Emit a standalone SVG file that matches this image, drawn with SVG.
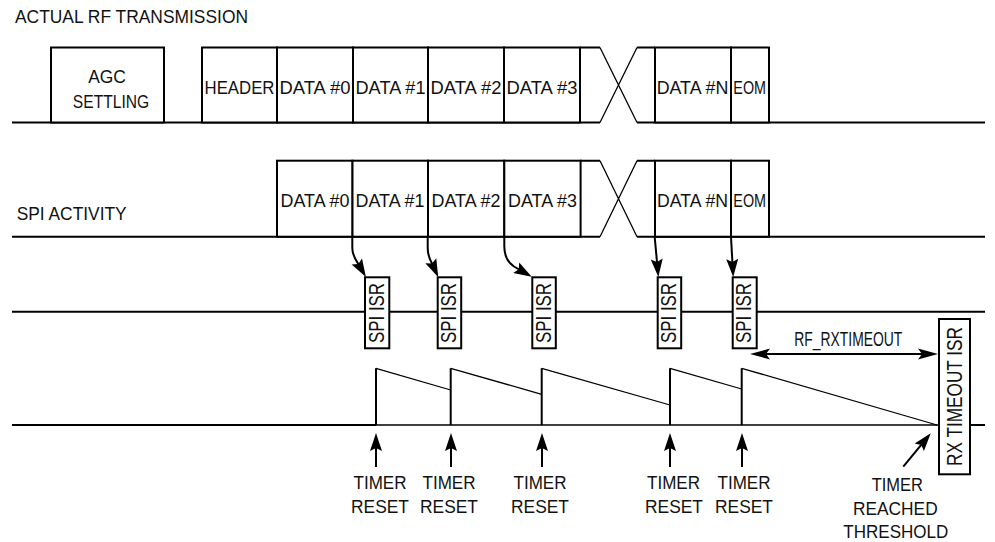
<svg xmlns="http://www.w3.org/2000/svg" width="995" height="542" viewBox="0 0 995 542">
<style>
  text { font-family: "Liberation Sans", Arial, sans-serif; font-size: 19px; fill: #111; }
  .c { text-anchor: middle; }
  .rot { font-size: 22px; text-anchor: middle; }
  .box { fill: #fff; stroke: #000; stroke-width: 2; }
  .ln { fill: none; stroke: #000; stroke-width: 2; }
  .thin { fill: none; stroke: #000; stroke-width: 1.3; }
  .arr { fill: none; stroke: #000; stroke-width: 2; marker-end: url(#ah); }
</style>
<defs>
  <marker id="ah" markerUnits="userSpaceOnUse" markerWidth="20" markerHeight="14" refX="14" refY="6" orient="auto" overflow="visible">
    <path d="M0,0 L18,6 L0,12 L3,6 Z" fill="#000"/>
  </marker>
  <marker id="ah2" markerUnits="userSpaceOnUse" markerWidth="22" markerHeight="14" refX="16" refY="5.5" orient="auto-start-reverse" overflow="visible">
    <path d="M0,0 L20,5.5 L0,11 L4,5.5 Z" fill="#000"/>
  </marker>
</defs>

<text x="15" y="23" textLength="233" lengthAdjust="spacingAndGlyphs">ACTUAL RF TRANSMISSION</text>
<text x="16.7" y="220" textLength="110" lengthAdjust="spacingAndGlyphs">SPI ACTIVITY</text>

<g id="baselines">
  <path class="ln" d="M12,122.5 H600 M637,122.5 H985"/>
  <path class="ln" d="M580,47.5 H600 M637,47.5 H655"/>
  <path class="thin" d="M600,47.5 L637,122.5 M600,122.5 L637,47.5"/>
  <path class="ln" d="M12,236.7 H600 M637,236.7 H985"/>
  <path class="ln" d="M580,160.7 H600 M637,160.7 H655"/>
  <path class="thin" d="M600,160.7 L637,236.7 M600,236.7 L637,160.7"/>
  <path class="ln" d="M12,311.7 H985"/>
  <path class="ln" d="M12,425 H376 M970,425 H985"/>
  <path class="thin" d="M376,425 H939"/>
</g>

<g id="rf-row">
  <g id="agc"><rect class="box" x="51" y="47.5" width="113" height="75"/>
    <text class="c" x="107" y="83" textLength="37.7" lengthAdjust="spacingAndGlyphs">AGC</text>
    <text class="c" x="111" y="108" textLength="76.3" lengthAdjust="spacingAndGlyphs">SETTLING</text></g>
  <g id="rf-header"><rect class="box" x="202" y="47.5" width="75" height="75"/>
    <text class="c" x="239.5" y="94" textLength="70" lengthAdjust="spacingAndGlyphs">HEADER</text></g>
  <g id="rf-d0"><rect class="box" x="277" y="47.5" width="76" height="75"/>
    <text class="c" x="315" y="94" textLength="71" lengthAdjust="spacingAndGlyphs">DATA #0</text></g>
  <g id="rf-d1"><rect class="box" x="353" y="47.5" width="75" height="75"/>
    <text class="c" x="390.5" y="94" textLength="70" lengthAdjust="spacingAndGlyphs">DATA #1</text></g>
  <g id="rf-d2"><rect class="box" x="428" y="47.5" width="76" height="75"/>
    <text class="c" x="466" y="94" textLength="71" lengthAdjust="spacingAndGlyphs">DATA #2</text></g>
  <g id="rf-d3"><rect class="box" x="504" y="47.5" width="76" height="75"/>
    <text class="c" x="542" y="94" textLength="71" lengthAdjust="spacingAndGlyphs">DATA #3</text></g>
  <g id="rf-dn"><rect class="box" x="655" y="47.5" width="76" height="75"/>
    <text class="c" x="692.5" y="94" textLength="71.6" lengthAdjust="spacingAndGlyphs">DATA #N</text></g>
  <g id="rf-eom"><rect class="box" x="731" y="47.5" width="38" height="75"/>
    <text class="c" x="749.7" y="94" textLength="32.7" lengthAdjust="spacingAndGlyphs">EOM</text></g>
</g>

<g id="spi-row">
  <g id="spi-d0"><rect class="box" x="277" y="160.7" width="75.5" height="76"/>
    <text class="c" x="315" y="206.5" textLength="69" lengthAdjust="spacingAndGlyphs">DATA #0</text></g>
  <g id="spi-d1"><rect class="box" x="352.5" y="160.7" width="75.5" height="76"/>
    <text class="c" x="390" y="206.5" textLength="69" lengthAdjust="spacingAndGlyphs">DATA #1</text></g>
  <g id="spi-d2"><rect class="box" x="428" y="160.7" width="76.3" height="76"/>
    <text class="c" x="466" y="206.5" textLength="69" lengthAdjust="spacingAndGlyphs">DATA #2</text></g>
  <g id="spi-d3"><rect class="box" x="504.3" y="160.7" width="76.3" height="76"/>
    <text class="c" x="542.5" y="206.5" textLength="69" lengthAdjust="spacingAndGlyphs">DATA #3</text></g>
  <g id="spi-dn"><rect class="box" x="655" y="160.7" width="76" height="76"/>
    <text class="c" x="692.5" y="206.5" textLength="71" lengthAdjust="spacingAndGlyphs">DATA #N</text></g>
  <g id="spi-eom"><rect class="box" x="731" y="160.7" width="38" height="76"/>
    <text class="c" x="749.7" y="206.5" textLength="32.7" lengthAdjust="spacingAndGlyphs">EOM</text></g>
</g>

<g id="connectors">
  <path class="arr" d="M352.3,237 V248 C352.3,255 355,259 358,263.5 L363.9,273.6"/>
  <path class="arr" d="M427.7,237 V248 C427.7,255 429.5,259 432,263.5 L436.6,273.6"/>
  <path class="arr" d="M504.3,237 V246 C504.3,256 507,262 514,266.5 L528.3,274.8"/>
  <path class="arr" d="M654.7,237 L658,273"/>
  <path class="arr" d="M731,237 L733,273"/>
  <path class="arr" d="M376,467 V437"/>
  <path class="arr" d="M451,467 V437"/>
  <path class="arr" d="M542,467 V437"/>
  <path class="arr" d="M670,467 V437"/>
  <path class="arr" d="M742,467 V437"/>
  <path class="arr" d="M903.3,466.7 L928.2,436.4"/>
  <path d="M754,354 H934" fill="none" stroke="#000" stroke-width="2" marker-start="url(#ah2)" marker-end="url(#ah2)"/>
</g>

<g id="timer">
  <path class="ln" d="M376,425 V368.3 M450.7,425 V368.3 M541.7,425 V368.3 M670,425 V368.3 M741.7,425 V368.3"/>
  <path class="thin" d="M376,368.3 L450.7,390 M450.7,368.3 L541.7,394.3 M541.7,368.3 L670,405 M670,368.3 L741.7,389 M741.7,368.3 L937,425"/>
</g>

<g id="isr1"><rect class="box" x="365" y="277.3" width="24.3" height="71"/>
  <text class="rot" transform="translate(384,313) rotate(-90)" textLength="60" lengthAdjust="spacingAndGlyphs">SPI ISR</text></g>
<g id="isr2"><rect class="box" x="437.7" y="277.3" width="23.5" height="71"/>
  <text class="rot" transform="translate(456,313) rotate(-90)" textLength="60" lengthAdjust="spacingAndGlyphs">SPI ISR</text></g>
<g id="isr3"><rect class="box" x="532.3" y="277.3" width="23.5" height="71"/>
  <text class="rot" transform="translate(550.6,313) rotate(-90)" textLength="60" lengthAdjust="spacingAndGlyphs">SPI ISR</text></g>
<g id="isr4"><rect class="box" x="657.7" y="277.3" width="23.5" height="71"/>
  <text class="rot" transform="translate(676,313) rotate(-90)" textLength="60" lengthAdjust="spacingAndGlyphs">SPI ISR</text></g>
<g id="isr5"><rect class="box" x="732.7" y="277.3" width="24" height="71"/>
  <text class="rot" transform="translate(751.3,313) rotate(-90)" textLength="60" lengthAdjust="spacingAndGlyphs">SPI ISR</text></g>

<g id="rx-timeout-isr"><rect class="box" x="939" y="319" width="31" height="155.3"/>
  <text class="rot" transform="translate(961.5,396.5) rotate(-90)" textLength="139" lengthAdjust="spacingAndGlyphs">RX TIMEOUT ISR</text></g>

<g id="labels">
  <text class="c" x="848.3" y="346" style="font-size:20px" textLength="108" lengthAdjust="spacingAndGlyphs">RF_RXTIMEOUT</text>
  <text class="c" x="380" y="488.5" textLength="53" lengthAdjust="spacingAndGlyphs">TIMER</text>
  <text class="c" x="380" y="513" textLength="58" lengthAdjust="spacingAndGlyphs">RESET</text>
  <text class="c" x="449" y="488.5" textLength="53" lengthAdjust="spacingAndGlyphs">TIMER</text>
  <text class="c" x="449" y="513" textLength="58" lengthAdjust="spacingAndGlyphs">RESET</text>
  <text class="c" x="540" y="488.5" textLength="53" lengthAdjust="spacingAndGlyphs">TIMER</text>
  <text class="c" x="540" y="513" textLength="58" lengthAdjust="spacingAndGlyphs">RESET</text>
  <text class="c" x="673.5" y="488.5" textLength="53" lengthAdjust="spacingAndGlyphs">TIMER</text>
  <text class="c" x="674" y="513" textLength="58" lengthAdjust="spacingAndGlyphs">RESET</text>
  <text class="c" x="744" y="488.5" textLength="53" lengthAdjust="spacingAndGlyphs">TIMER</text>
  <text class="c" x="744" y="513" textLength="58" lengthAdjust="spacingAndGlyphs">RESET</text>
  <text class="c" x="897.3" y="490.5" textLength="51.3" lengthAdjust="spacingAndGlyphs">TIMER</text>
  <text class="c" x="895.3" y="514.5" textLength="84.7" lengthAdjust="spacingAndGlyphs">REACHED</text>
  <text class="c" x="895.8" y="538" textLength="105" lengthAdjust="spacingAndGlyphs">THRESHOLD</text>
</g>
</svg>
